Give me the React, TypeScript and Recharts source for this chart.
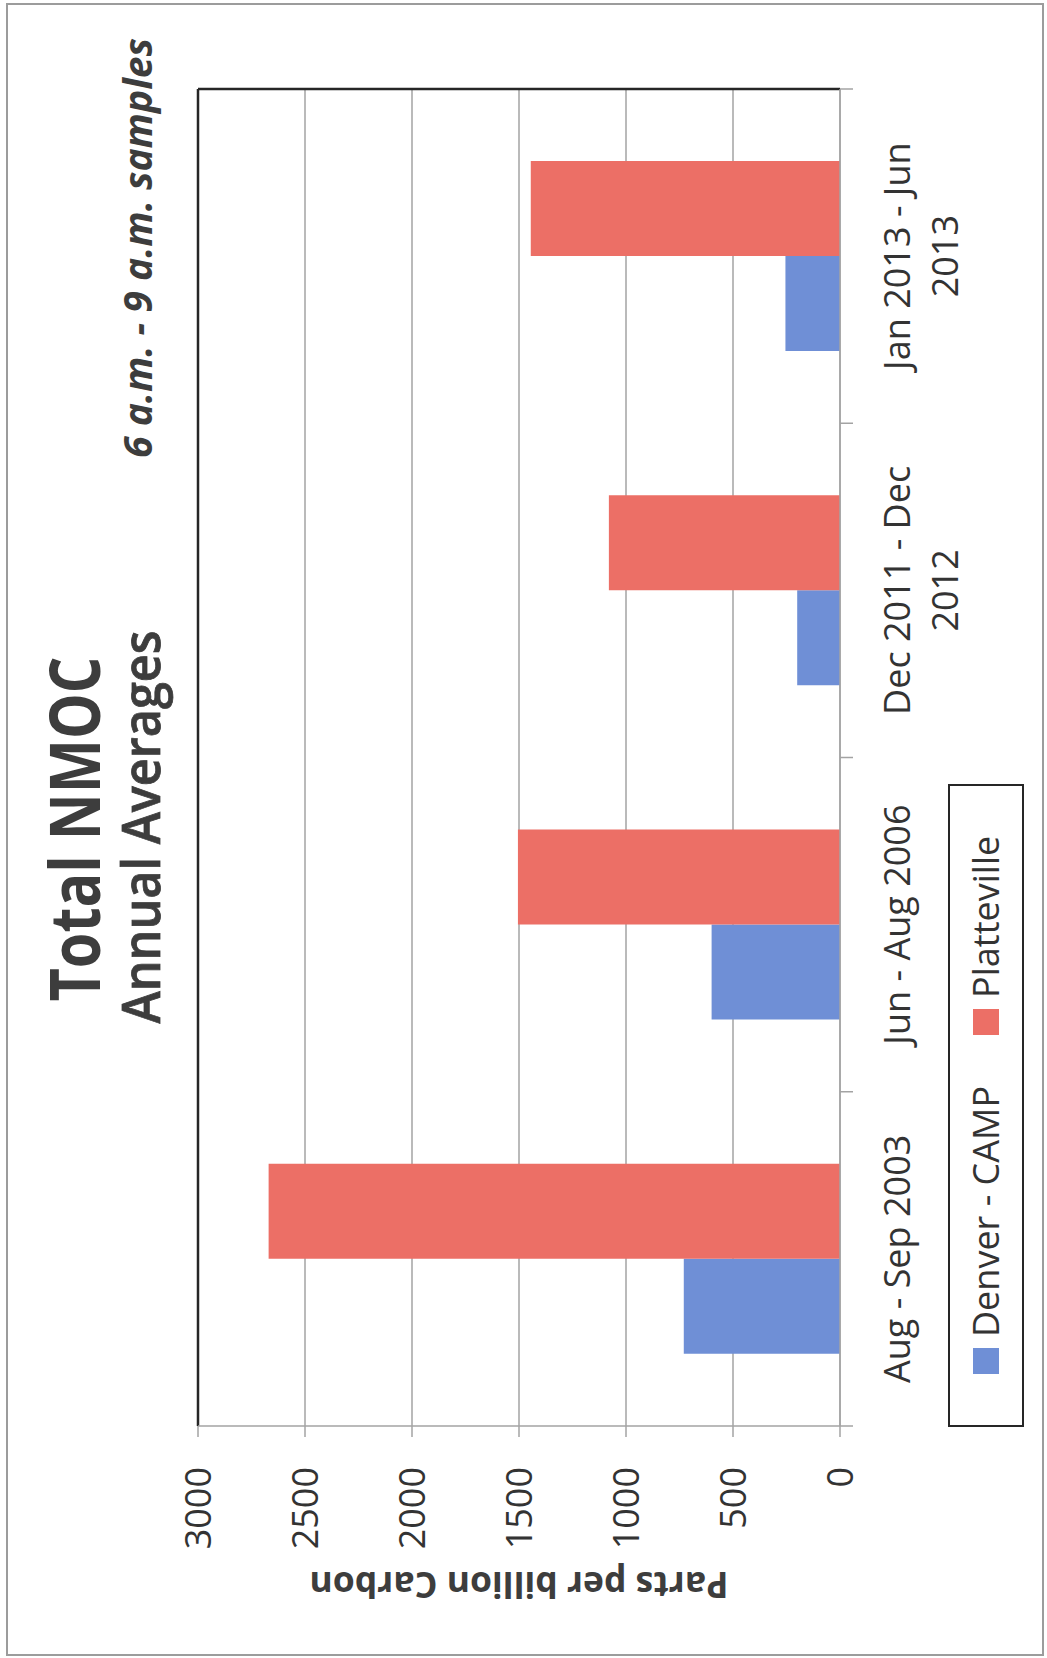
import React from 'react';
import { BarChart, Bar, XAxis, YAxis, CartesianGrid, Legend, ReferenceLine } from 'recharts';

// chart data
const periods = ['Aug - Sep 2003', 'Jun - Aug 2006', 'Dec 2011 - Dec 2012', 'Jan 2013 - Jun 2013'];
const denverCamp = [730, 600, 200, 255];
const platteville = [2670, 1505, 1080, 1445];
const valueTicks = [0, 500, 1000, 1500, 2000, 2500, 3000];

// the page shows the chart turned a quarter turn; these are the unrotated sizes
const W = 1658;
const H = 1047;
const PLOT_LEFT = 232;
const PLOT_RIGHT = 1569;
const PLOT_TOP = 198;
const PLOT_BOTTOM = 840;
const HALF_BAND = (PLOT_RIGHT - PLOT_LEFT) / periods.length / 2;
const TICK = 13;

const FONT = '"Open Sans", "Noto Sans", sans-serif';
const TEXT = '#333333';
const TITLE = '#3d3d3d';
const GRID = '#a3a3a3';
const FRAME = '#262626';
const BLUE = '#6f8fd6';
const RED = '#ec6f66';

const data = periods.map((period, i) => ({
  period,
  denver: denverCamp[i],
  platteville: platteville[i],
}));

function splitLabel(label: string): string[] {
  if (label.length <= 15) return [label];
  const cut = label.lastIndexOf(' ');
  return [label.slice(0, cut), label.slice(cut + 1)];
}

function PeriodTick(props: any) {
  const { x, y, payload, index } = props;
  const lines = splitLabel(String(payload.value));
  const axisY = y - TICK;
  return (
    <g>
      <line x1={x - HALF_BAND} x2={x - HALF_BAND} y1={axisY} y2={axisY + TICK} stroke={GRID} strokeWidth={1.5} />
      {index === periods.length - 1 && (
        <line x1={x + HALF_BAND} x2={x + HALF_BAND} y1={axisY} y2={axisY + TICK} stroke={GRID} strokeWidth={1.5} />
      )}
      <text x={x} y={y} textAnchor="middle" fill={TEXT} fontSize={36} fontFamily={FONT}>
        {lines.map((line, i) => (
          <tspan key={line} x={x} dy={i === 0 ? 57 : 48}>
            {line}
          </tspan>
        ))}
      </text>
    </g>
  );
}

function LegendBox(props: any) {
  const items = props.payload || [];
  return (
    <div
      style={{
        boxSizing: 'border-box',
        width: '100%',
        height: '100%',
        border: `2.5px solid ${FRAME}`,
        display: 'flex',
        alignItems: 'center',
        paddingLeft: 51,
        gap: 51,
        fontFamily: FONT,
        fontSize: 36,
        color: TEXT,
      }}
    >
      {items.map((item: any) => (
        <div key={item.value} style={{ display: 'flex', alignItems: 'center' }}>
          <span style={{ display: 'inline-block', width: 26, height: 26, background: item.color, marginRight: 11 }} />
          <span style={{ lineHeight: 1 }}>{item.value}</span>
        </div>
      ))}
    </div>
  );
}

export default function App() {
  return (
    <div style={{ position: 'absolute', left: 0, top: 0, width: H, height: W, background: '#fff', overflow: 'hidden' }}>
      <div
        style={{
          position: 'absolute',
          left: 6,
          top: 3,
          width: 1038,
          height: 1653,
          boxSizing: 'border-box',
          border: '2px solid #9c9c9c',
        }}
      />
      <div
        style={{
          position: 'absolute',
          left: 0,
          top: 0,
          width: W,
          height: H,
          transformOrigin: '0 0',
          transform: `translate(0px, ${W}px) rotate(-90deg)`,
        }}
      >
        <BarChart
          width={W}
          height={H}
          data={data}
          margin={{ top: PLOT_TOP, right: W - PLOT_RIGHT, left: 0, bottom: H - PLOT_BOTTOM - 130 }}
          barCategoryGap="21.6%"
          barGap={0}
          style={{ fontFamily: FONT }}
        >
          <CartesianGrid vertical={false} stroke={GRID} strokeWidth={1.5} />
          <XAxis
            dataKey="period"
            height={130}
            interval={0}
            tickSize={TICK}
            tickMargin={0}
            tickLine={false}
            axisLine={{ stroke: GRID, strokeWidth: 1.5 }}
            tick={<PeriodTick />}
          />
          <YAxis
            type="number"
            domain={[0, 3000]}
            ticks={valueTicks}
            width={PLOT_LEFT}
            tickSize={11}
            tickMargin={30}
            tickLine={{ stroke: GRID, strokeWidth: 1.5 }}
            axisLine={{ stroke: GRID, strokeWidth: 1.5 }}
            tick={{ fontSize: 36, fill: TEXT, fontFamily: FONT }}
          />
          <ReferenceLine y={3000} stroke={FRAME} strokeWidth={2.5} />
          <ReferenceLine x={periods[periods.length - 1]} position="end" stroke={FRAME} strokeWidth={2.5} />
          <Bar dataKey="denver" name="Denver - CAMP" fill={BLUE} isAnimationActive={false} />
          <Bar dataKey="platteville" name="Platteville" fill={RED} isAnimationActive={false} />
          <Legend
            layout="horizontal"
            verticalAlign="middle"
            align="center"
            content={LegendBox}
            wrapperStyle={{ left: 231, top: 948, width: 643, height: 76 }}
          />
        </BarChart>
        <svg
          width={W}
          height={H}
          style={{ position: 'absolute', left: 0, top: 0, pointerEvents: 'none' }}
        >
          <text
            x={829}
            y={100}
            textAnchor="middle"
            fontFamily={FONT}
            fontWeight={700}
            fontSize={70}
            fill={TITLE}
            textLength={345}
            lengthAdjust="spacingAndGlyphs"
          >
            Total NMOC
          </text>
          <text
            x={831}
            y={160}
            textAnchor="middle"
            fontFamily={FONT}
            fontWeight={600}
            fontSize={52}
            fill={TITLE}
            stroke={TITLE}
            strokeWidth={0.8}
            textLength={393}
            lengthAdjust="spacingAndGlyphs"
          >
            Annual Averages
          </text>
          <text
            x={1410}
            y={152}
            textAnchor="middle"
            fontFamily={FONT}
            fontWeight={700}
            fontStyle="italic"
            fontSize={40}
            fill={TITLE}
            textLength={420}
            lengthAdjust="spacingAndGlyphs"
          >
            6 a.m. - 9 a.m. samples
          </text>
          <text
            x={86}
            y={519}
            transform="rotate(-90, 86, 519)"
            textAnchor="middle"
            fontFamily={FONT}
            fontWeight={700}
            fontSize={36}
            fill={TITLE}
            textLength={419}
            lengthAdjust="spacingAndGlyphs"
          >
            Parts per billion Carbon
          </text>
        </svg>
      </div>
    </div>
  );
}
